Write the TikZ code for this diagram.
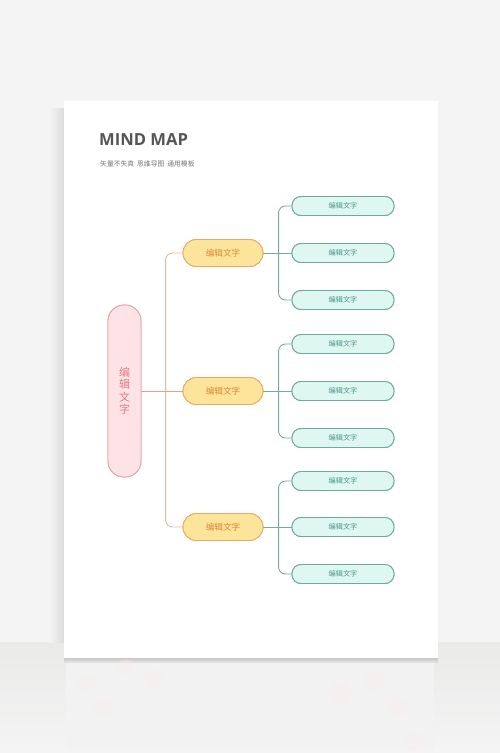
\documentclass[tikz,border=0pt]{standalone}
\usepackage{fontspec}
\setmainfont{Noto Sans CJK SC}
\newfontfamily\titlefont{Open Sans}
\definecolor{bgc}{HTML}{F4F4F4}
\definecolor{floorc}{HTML}{EAEAE9}
\definecolor{titlec}{HTML}{555555}
\definecolor{subc}{HTML}{777777}
\definecolor{rootfill}{HTML}{FDE3E6}
\definecolor{rootdraw}{HTML}{E9A3AA}
\definecolor{roottext}{HTML}{E07C86}
\definecolor{lafill}{HTML}{FCE49A}
\definecolor{ladraw}{HTML}{E6AC66}
\definecolor{latext}{HTML}{E0873A}
\definecolor{lbfill}{HTML}{DEF7F1}
\definecolor{lbdraw}{HTML}{6DA99E}
\definecolor{lbtext}{HTML}{4F978C}
\definecolor{spinec}{HTML}{E0BC9E}
\definecolor{rootline}{HTML}{EBA07C}
\definecolor{tealline}{HTML}{74AAA1}
\tikzset{
  rootbox/.style={draw=rootdraw, fill=rootfill, line width=0.9pt, rounded corners=16pt,
    minimum width=33pt, minimum height=172pt, inner sep=0pt, align=center,
    text=roottext, font=\fontsize{11}{12.5}\selectfont},
  onebox/.style={draw=ladraw, fill=lafill, line width=0.9pt, rounded corners=13.5pt,
    minimum width=80pt, minimum height=27pt, inner sep=0pt, text=latext,
    font=\fontsize{8.6}{10}\selectfont},
  twobox/.style={draw=lbdraw, fill=lbfill, line width=0.9pt, rounded corners=9pt,
    minimum width=102pt, minimum height=19pt, inner sep=0pt, text=lbtext,
    font=\fontsize{7.2}{8}\selectfont},
  spine/.style={draw=spinec, line width=0.9pt, rounded corners=7pt},
  tealspine/.style={draw=tealline, line width=0.9pt, rounded corners=7pt},
  tealstraight/.style={draw=tealline, line width=0.9pt},
  rootstraight/.style={draw=rootline, line width=0.9pt},
}
\begin{document}
\begin{tikzpicture}[x=1pt,y=-1pt]
% background scene
\fill[bgc] (0,0) rectangle (500,753);
\shade[top color=floorc, bottom color=bgc] (0,642) rectangle (500,753);
\shade[left color=bgc, right color=black!14] (50,108) rectangle (64,642);
\shade[top color=black!22, bottom color=floorc] (64,658) rectangle (438,663);
\fill[black!5] (66,663) rectangle (434,751);
\foreach \px/\py/\pr in {86/683/9, 102/708/10, 126/667/8, 154/678/9, 340/693/11, 374/682/10, 398/707/10, 415/740/9}
  \fill[pink!30,opacity=0.25] (\px,\py) circle (\pr);
% paper
\fill[white] (64,101) rectangle (438,658);
% title
\node[anchor=west, inner sep=0pt, text=titlec, font=\titlefont\bfseries\fontsize{16.6}{20}\selectfont] (title) at (99,140) {MIND MAP};
\node[anchor=west, inner sep=0pt, text=subc, font=\fontsize{6.8}{8}\selectfont] (sub) at (100,164) {矢量不失真\hspace{3pt}思维导图\hspace{3pt}通用模板};
% nodes
\node[rootbox] (r) at (124.5,391) {编\\辑\\文\\字};
\node[onebox] (a) at (223,253) {编辑文字};
\node[onebox] (b) at (223,391) {编辑文字};
\node[onebox] (c) at (223,527) {编辑文字};
\node[twobox] (a1) at (343,206) {编辑文字};
\node[twobox] (a2) at (343,253) {编辑文字};
\node[twobox] (a3) at (343,300) {编辑文字};
\node[twobox] (b1) at (343,344) {编辑文字};
\node[twobox] (b2) at (343,391) {编辑文字};
\node[twobox] (b3) at (343,438) {编辑文字};
\node[twobox] (c1) at (343,481) {编辑文字};
\node[twobox] (c2) at (343,527) {编辑文字};
\node[twobox] (c3) at (343,574) {编辑文字};
% connectors
\draw[spine] (a.west) -- ++(-17,0) |- (c.west);
\draw[rootstraight] (r.east) -- (b.west);
\foreach \p in {a,b,c}{
  \draw[tealspine] (\p1.west) -- ++(-13,0) |- (\p3.west);
  \draw[tealstraight] (\p.east) -- (\p2.west);
}
% redraw nodes on top of lines
\node[rootbox] at (r) {编\\辑\\文\\字};
\foreach \p in {a,b,c} \node[onebox] at (\p) {编辑文字};
\foreach \p in {a1,a2,a3,b1,b2,b3,c1,c2,c3} \node[twobox] at (\p) {编辑文字};
\end{tikzpicture}
\end{document}
